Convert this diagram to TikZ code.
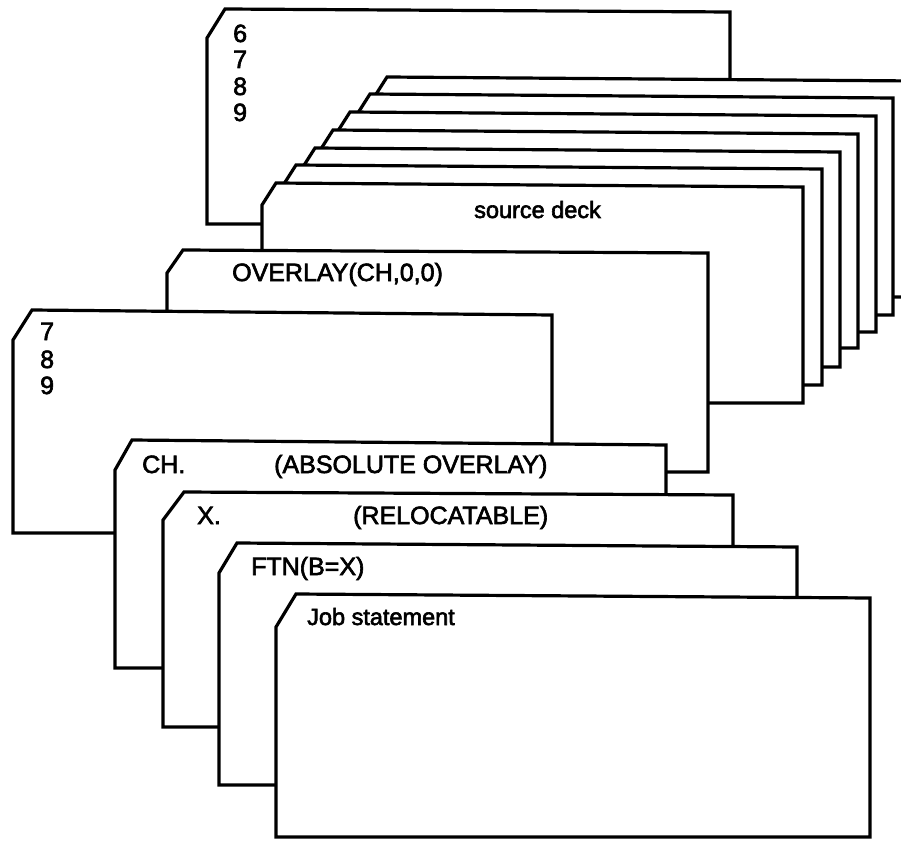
\documentclass[tikz,border=0pt]{standalone}
\usepackage{fontspec}
\setmainfont{Liberation Sans}[FakeBold=2.5]
% #1 left, #2 top, #3 right, #4 bottom, #5 cut width, #6 cut height, #7 drop of top edge at right
\newcommand\deckcard[7]{%
  \draw[cardline] (#1,#2+#6) -- (#1+#5,#2) -- (#3,#2+#7) -- (#3,#4) -- (#1,#4) -- cycle;}
\tikzset{
  cardline/.style={draw=black, fill=white, line width=3.2pt, line join=miter},
  lab/.style={anchor=base west, inner sep=0pt, font=\fontsize{25}{30}\selectfont},
  lablow/.style={lab, font=\fontsize{23.5}{28}\selectfont}
}
\begin{document}
\begin{tikzpicture}[x=1pt,y=-1pt]
\useasboundingbox (0,0) rectangle (901,842);
\clip (0,0) rectangle (901,842);
\fill[white] (0,0) rectangle (901,842);
% back card 6 7 8 9
\deckcard{207}{9}{730}{224}{18}{29}{3}
\node[lab] (a6) at (233,42) {6};
\node[lab] (a7) at (233,68) {7};
\node[lab] (a8) at (233,95) {8};
\node[lab] (a9) at (233,121) {9};
% source deck
\deckcard{373}{77}{915}{297}{14}{22}{4}
\deckcard{356}{94}{893}{315}{14}{22}{4}
\deckcard{336}{112}{876}{332}{14}{22}{4}
\deckcard{319}{130}{858}{348}{14}{22}{4}
\deckcard{301}{148}{840}{367}{14}{22}{4}
\deckcard{282}{165}{822}{385}{14}{22}{4}
\deckcard{262}{183}{803}{403}{14}{22}{4}
\node[lablow] (src) at (474,218) {source deck};
% overlay card
\deckcard{167}{250}{708}{472}{16}{23}{3}
\node[lab] (ovl) at (232,281) {OVERLAY(CH,0,0)};
% 7 8 9 card
\deckcard{13}{310}{552}{533}{19}{30}{5}
\node[lab] (b7) at (40,340) {7};
\node[lab] (b8) at (40,368) {8};
\node[lab] (b9) at (40,394) {9};
% CH. card
\deckcard{115}{440}{666}{668}{17}{30}{5}
\node[lab] (ch) at (142,473) {CH.};
\node[lab] (abs) at (274,473) {(ABSOLUTE OVERLAY)};
% X. card
\deckcard{163}{492}{733}{727}{21}{28}{3}
\node[lab] (xx) at (197,524) {X.};
\node[lab] (rel) at (353,524) {(RELOCATABLE)};
% FTN card
\deckcard{219}{543}{797}{785}{18}{30}{4}
\node[lab] (ftn) at (251,575) {FTN(B=X)};
% Job statement card
\deckcard{276}{594}{870}{837}{20}{33}{4}
\node[lablow] (job) at (307,625) {Job statement};
\end{tikzpicture}
\end{document}
